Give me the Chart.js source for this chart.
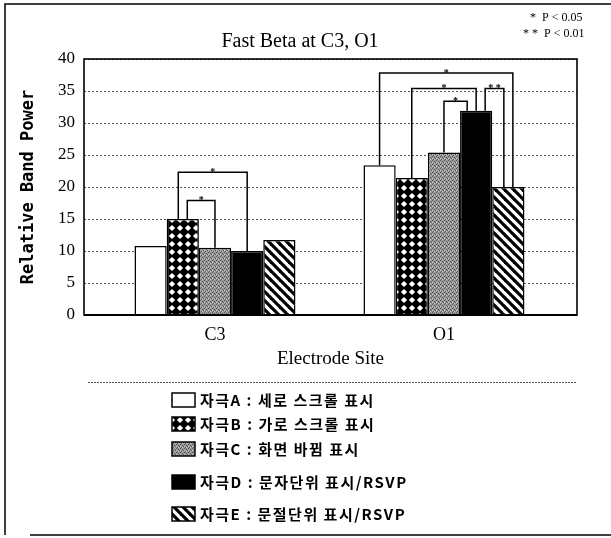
<!DOCTYPE html>
<html>
<head>
<meta charset="utf-8">
<script src="https://cdn.jsdelivr.net/npm/chart.js@4/dist/chart.umd.min.js"></script>
<style>
  html, body { margin: 0; padding: 0; background: #fff; }
  #wrap { position: relative; width: 611px; height: 538px; }
  canvas { display: block; }
</style>
</head>
<body>
<div id="wrap"><canvas id="c" width="611" height="538"></canvas></div>
<script>
// ---- data ----
const categories = ['C3', 'O1'];
const seriesLabels = [
  '자극A : 세로 스크롤 표시',
  '자극B : 가로 스크롤 표시',
  '자극C : 화면 바뀜 표시',
  '자극D : 문자단위 표시/RSVP',
  '자극E : 문절단위 표시/RSVP'
];
const valuesA = [10.8, 23.4];
const valuesB = [15.0, 21.4];
const valuesC = [10.5, 25.4];
const valuesD = [10.0, 31.9];
const valuesE = [11.7, 20.0];
const yTicks = [0, 5, 10, 15, 20, 25, 30, 35, 40];
// significance brackets: category index, series from, series to, bracket height (value), mark
const bracketCat  = [0, 0, 1, 1, 1, 1];
const bracketFrom = [1, 1, 0, 1, 2, 3];
const bracketTo   = [3, 2, 4, 3, 3, 4];
const bracketTop  = [22.3, 17.9, 37.8, 35.4, 33.4, 35.4];
const bracketMark = ['*', '*', '*', '*', '*', '**'];
const chartTitle = 'Fast Beta at C3, O1';
const xTitle = 'Electrode Site';
const yTitle = 'Relative Band Power';
const pNotes = ['*  P < 0.05', '* *  P < 0.01'];

// ---- patterns ----
function makePattern(size, draw) {
  const c = document.createElement('canvas');
  c.width = size; c.height = size;
  const g = c.getContext('2d');
  draw(g, size);
  return document.createElement('canvas').getContext('2d').createPattern(c, 'repeat');
}
const patWhite = '#ffffff';
const patCross = makePattern(8, (g, s) => {
  g.fillStyle = '#000'; g.fillRect(0, 0, s, s);
  g.fillStyle = '#fff';
  g.beginPath(); g.moveTo(4, 0.9); g.lineTo(7.1, 4); g.lineTo(4, 7.1); g.lineTo(0.9, 4); g.closePath(); g.fill();
});
const patGray = makePattern(4, (g, s) => {
  g.fillStyle = '#9a9a9a'; g.fillRect(0, 0, s, s);
  g.fillStyle = '#555';
  g.fillRect(0, 0, 1, 1); g.fillRect(2, 1, 1, 1); g.fillRect(1, 3, 1, 1); g.fillRect(3, 2, 1, 1);
  g.fillStyle = '#c8c8c8';
  g.fillRect(2, 3, 1, 1); g.fillRect(0, 2, 1, 1);
});
const patBlack = '#000000';
const patStripe = makePattern(9, (g, s) => {
  g.fillStyle = '#fff'; g.fillRect(0, 0, s, s);
  g.strokeStyle = '#000'; g.lineWidth = 3.2;
  for (let k = -1; k <= 1; k++) {
    g.beginPath(); g.moveTo(k * s - 1, -1); g.lineTo(k * s + s + 1, s + 1); g.stroke();
  }
});
const fills = [patWhite, patCross, patGray, patBlack, patStripe];
const allValues = [valuesA, valuesB, valuesC, valuesD, valuesE];

// ---- plugins ----
const bracketPlugin = {
  id: 'brackets',
  afterDatasetsDraw(chart) {
    const ctx = chart.ctx, ys = chart.scales.y;
    const legs = {};
    bracketCat.forEach((c, i) => {
      [[bracketFrom[i], bracketTo[i]], [bracketTo[i], bracketFrom[i]]].forEach(([bar, partner]) => {
        const k = c + '-' + bar;
        (legs[k] = legs[k] || []).push({ partner, i });
      });
    });
    const legX = {};
    for (const k in legs) {
      const [c, bar] = k.split('-').map(Number);
      const arr = legs[k];
      arr.sort((a, b) => {
        const ga = a.partner < bar ? 0 : 1, gb = b.partner < bar ? 0 : 1;
        if (ga !== gb) return ga - gb;
        return b.partner - a.partner;
      });
      const el = chart.getDatasetMeta(bar).data[c];
      const n = arr.length;
      arr.forEach((o, j) => { legX[o.i + '-' + bar] = { x: el.x + (j - (n - 1) / 2) * 9, y: el.y }; });
    }
    ctx.save();
    ctx.strokeStyle = '#000'; ctx.lineWidth = 1.5; ctx.fillStyle = '#000';
    bracketCat.forEach((c, i) => {
      const a = legX[i + '-' + bracketFrom[i]], b = legX[i + '-' + bracketTo[i]];
      const ty = ys.getPixelForValue(bracketTop[i]);
      ctx.beginPath();
      ctx.moveTo(a.x, a.y); ctx.lineTo(a.x, ty); ctx.lineTo(b.x, ty); ctx.lineTo(b.x, b.y);
      ctx.stroke();
      ctx.font = 'bold 10px "Liberation Serif"';
      ctx.textAlign = 'center'; ctx.textBaseline = 'alphabetic';
      const mark = bracketMark[i].split('').join(' ');
      ctx.fillText(mark, (a.x + b.x) / 2, ty + 3);
    });
    ctx.restore();
  }
};

const decorPlugin = {
  id: 'decor',
  afterDraw(chart) {
    const ctx = chart.ctx, ca = chart.chartArea;
    ctx.save();
    // plot border
    ctx.strokeStyle = '#000'; ctx.lineWidth = 1.6;
    ctx.strokeRect(ca.left, ca.top, ca.right - ca.left, ca.bottom - ca.top);
    ctx.lineWidth = 2.2;
    ctx.beginPath(); ctx.moveTo(ca.left, ca.bottom); ctx.lineTo(ca.right, ca.bottom); ctx.stroke();
    // outer frame (top, left, bottom)
    ctx.lineWidth = 1.5;
    ctx.beginPath();
    ctx.moveTo(611, 4); ctx.lineTo(5, 4); ctx.lineTo(5, 535);
    ctx.moveTo(30, 535); ctx.lineTo(611, 535);
    ctx.stroke();
    // title
    ctx.fillStyle = '#000';
    ctx.font = '20px "Liberation Serif"';
    ctx.textAlign = 'center'; ctx.textBaseline = 'alphabetic';
    ctx.fillText(chartTitle, 300, 47);
    // p notes
    ctx.font = '12px "Liberation Serif"';
    ctx.textAlign = 'left';
    ctx.fillText(pNotes[0], 530, 21);
    ctx.fillText(pNotes[1], 523, 37);
    // separator
    ctx.strokeStyle = '#555'; ctx.lineWidth = 1; ctx.setLineDash([2, 1]);
    ctx.beginPath(); ctx.moveTo(88, 382.5); ctx.lineTo(577, 382.5); ctx.stroke();
    ctx.setLineDash([]);
    // legend
    const rowY = [400, 424, 449, 482, 514];
    ctx.font = 'bold 15px "Noto Sans CJK KR"';
    ctx.textBaseline = 'middle';
    seriesLabels.forEach((lab, i) => {
      const y = rowY[i];
      ctx.fillStyle = fills[i];
      ctx.fillRect(172, y - 7, 23, 14);
      ctx.strokeStyle = '#000'; ctx.lineWidth = 1.5;
      ctx.strokeRect(172, y - 7, 23, 14);
      ctx.fillStyle = '#000';
      ctx.letterSpacing = '1.5px';
      ctx.fillText(lab, 200, y);
      ctx.letterSpacing = '0px';
    });
    ctx.restore();
  }
};

// ---- chart ----
const datasets = allValues.map((vals, i) => ({
  label: seriesLabels[i],
  data: vals.map((v, k) => ({ x: k, y: v })),
  backgroundColor: fills[i],
  borderColor: '#000',
  borderWidth: 1.5,
  borderSkipped: 'bottom'
}));

new Chart(document.getElementById('c'), {
  type: 'bar',
  data: { datasets },
  options: {
    responsive: false,
    animation: false,
    devicePixelRatio: 1,
    layout: { padding: { left: 5, right: 34, top: 59, bottom: 163 } },
    datasets: { bar: { categoryPercentage: 0.703, barPercentage: 1.0 } },
    plugins: { legend: { display: false }, title: { display: false }, tooltip: { enabled: false } },
    scales: {
      x: {
        type: 'linear',
        min: -0.572, max: 1.581,
        offset: false,
        afterBuildTicks: s => { s.ticks = categories.map((_, i) => ({ value: i })); },
        afterFit: s => { s.height = 60; },
        grid: { display: false, drawTicks: false },
        border: { display: false },
        ticks: {
          callback: v => categories[v],
          autoSkip: false, maxRotation: 0,
          padding: 9,
          color: '#000',
          font: { family: '"Liberation Serif"', size: 18 }
        },
        title: {
          display: true, text: xTitle, color: '#000',
          font: { family: '"Liberation Serif"', size: 19 },
          padding: { top: 0, bottom: 5 }
        }
      },
      y: {
        min: 0, max: 40,
        afterBuildTicks: s => { s.ticks = yTicks.map(v => ({ value: v })); },
        afterFit: s => { s.width = 79; },
        grid: { color: '#555', lineWidth: 1, drawTicks: false },
        border: { display: false, dash: [2, 2] },
        ticks: {
          padding: 9, color: '#000',
          font: { family: '"Liberation Serif"', size: 17 }
        },
        title: {
          display: true, text: yTitle, color: '#000',
          font: { family: '"DejaVu Sans Mono"', size: 17, weight: 'bold' },
          padding: { top: 13, bottom: 0 }
        }
      }
    }
  },
  plugins: [bracketPlugin, decorPlugin]
});
</script>
</body>
</html>
